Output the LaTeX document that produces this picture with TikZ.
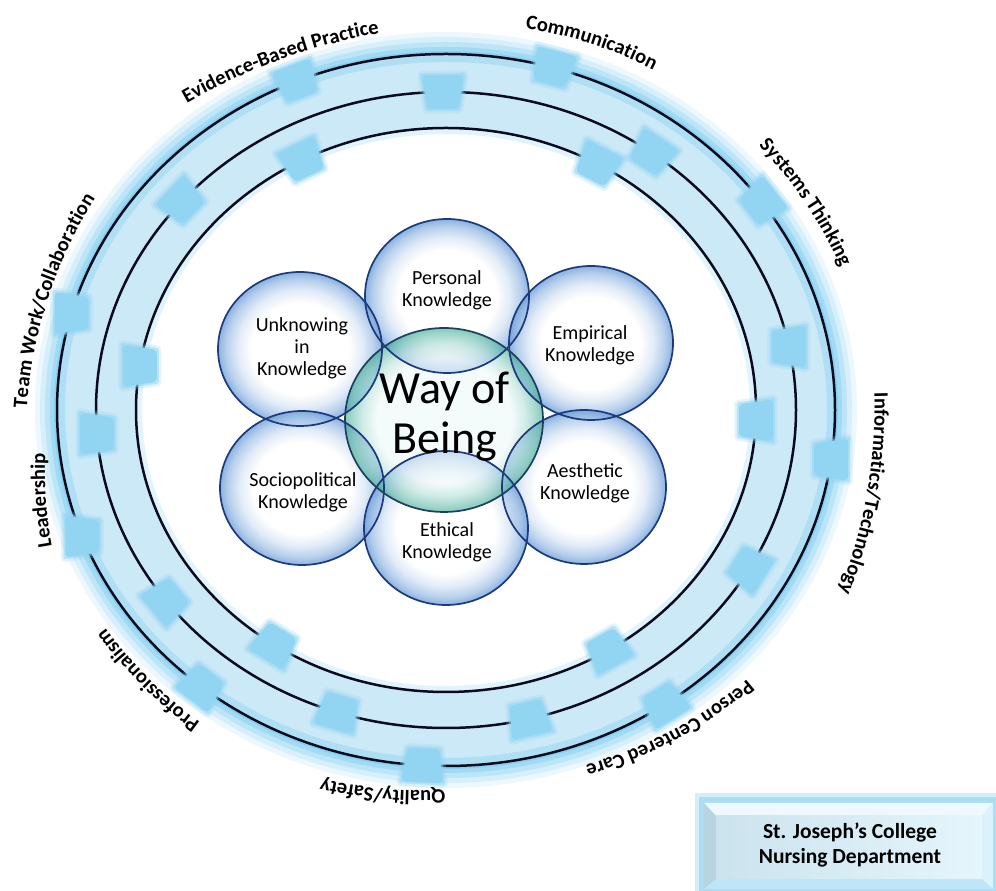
\documentclass[tikz,border=0pt]{standalone}
\usepackage{fontspec}
\setmainfont{Carlito}
\usetikzlibrary{decorations.text}
\definecolor{bandc}{HTML}{CCE9F7}
\definecolor{glowc}{HTML}{6FC8EF}
\definecolor{tabc}{HTML}{92D5F2}
\definecolor{ringc}{HTML}{0B0B20}
\definecolor{navyc}{HTML}{1C3A7C}
\definecolor{bubc}{HTML}{5E95D6}
\definecolor{tealc}{HTML}{2FA68C}
\definecolor{corec}{HTML}{EEF9F9}
\definecolor{coreline}{HTML}{1D4060}

\pgfdeclareradialshading{bubble}{\pgfpoint{0bp}{0bp}}{%
  color(0bp)=(white); color(15bp)=(white); color(19bp)=(bubc!22!white);
  color(22.5bp)=(bubc!55!white); color(25bp)=(bubc!90!white); color(50bp)=(bubc!90!white)}
\pgfdeclareradialshading{coreshade}{\pgfpoint{0bp}{0bp}}{%
  color(0bp)=(corec); color(17bp)=(corec); color(20.5bp)=(tealc!30!corec);
  color(23.5bp)=(tealc!75!white); color(25bp)=(tealc); color(50bp)=(tealc)}

\newcommand\lblfont{\bfseries\fontsize{20.5}{24}\selectfont}
\newcommand\ringtab[3]{%
  \pgfmathsetmacro\tabX{446+#1*cos(#3)}%
  \pgfmathsetmacro\tabY{481+#2*sin(#3)}%
  \pgfmathsetmacro\tabN{atan2(sin(#3)/#2,cos(#3)/#1)-90}%
  \begin{scope}[shift={(\tabX,\tabY)},rotate=\tabN]
    \draw[tabc,line width=9pt,opacity=0.25,line join=round] (-21,17) -- (21,17) -- (16,-17) -- (-16,-17) -- cycle;
    \draw[tabc,line width=4pt,opacity=0.5,line join=round] (-21,17) -- (21,17) -- (16,-17) -- (-16,-17) -- cycle;
    \fill[tabc,rounded corners=4pt] (-21,17) -- (21,17) -- (16,-17) -- (-16,-17) -- cycle;
  \end{scope}}
\newcommand\ringlabel[5]{%
  \pgfmathsetmacro\lbX{#1-#4*cos(#3+90)}%
  \pgfmathsetmacro\lbY{891-#2-#4*sin(#3+90)}%
  \pgfmathsetmacro\lbS{#3+90+14324/#4}%
  \pgfmathsetmacro\lbE{#3+90-14324/#4}%
  \path[decorate,decoration={text along path,text align=center,text={|\lblfont|#5}}]
    ([shift={(\lbS:#4)}]\lbX,\lbY) arc[start angle=\lbS,end angle=\lbE,radius=#4];
}

\begin{document}
\begin{tikzpicture}[x=1pt,y=1pt,
  ringline/.style={ringc,line width=2.5pt},
  bubline/.style={navyc,line width=1.7pt},
  klbl/.style={align=center,font=\fontsize{20}{22}\selectfont,inner sep=0pt},
]
\useasboundingbox (0,0) rectangle (996,891);
\fill[white] (0,0) rectangle (996,891);

% ---- ring band ----
\coordinate (rc) at (446,481);
\foreach \d/\o in {22/0.12,17/0.18,12/0.25,7/0.35,3/0.45}
  {\fill[glowc,opacity=\o] (rc) ellipse [x radius=389+\d, y radius=356+\d];}
\fill[bandc] (rc) ellipse [x radius=390, y radius=357];
\draw[glowc,opacity=0.3,line width=8pt] (rc) ellipse [x radius=385, y radius=352];
\fill[white] (rc) ellipse [x radius=310, y radius=282];
\draw[glowc,opacity=0.2,line width=6pt] (rc) ellipse [x radius=307, y radius=279];

\draw[ringline] (rc) ellipse [x radius=389, y radius=356];
\draw[ringline] (rc) ellipse [x radius=350, y radius=318];
\draw[ringline] (rc) ellipse [x radius=310, y radius=282];

% ---- tabs ----
\foreach \ta in {112.6,74,35.7,-8,-55.8,266.6,231,200.8,164.2} {\ringtab{389}{356}{\ta}}
\foreach \ta in {90.5,53.9,11.5,-29.9,-76.3,252,216.9,184.3,139} {\ringtab{350}{318}{\ta}}
\foreach \ta in {117.6,60.7,-2.1,-58.5,236.4,171} {\ringtab{310}{282}{\ta}}

% ---- circles ----
\foreach \x/\y in {447/595, 300/542, 591/548, 302/403, 584/404, 446/363}
  {\shade[shading=bubble,opacity=0.8] (\x,\y) ellipse [x radius=82, y radius=77];}
\shade[shading=coreshade,opacity=0.6] (444,471) ellipse [x radius=99, y radius=92];
\foreach \x/\y in {447/595, 300/542, 591/548, 302/403, 584/404, 446/363}
  {\draw[bubline] (\x,\y) ellipse [x radius=82, y radius=77];}
\draw[coreline,line width=1.7pt] (444,471) ellipse [x radius=99, y radius=92];

\node[klbl] (tper) at (447,601) {Personal\\Knowledge};
\node[klbl] (tunk) at (302,543) {Unknowing\\in\\Knowledge};
\node[klbl] (temp) at (590,546) {Empirical\\Knowledge};
\node[klbl] (tsoc) at (303,399) {Sociopolitical\\Knowledge};
\node[klbl] (taes) at (585,408) {Aesthetic\\Knowledge};
\node[klbl] (teth) at (447,349) {Ethical\\Knowledge};
\node[align=center,font=\fontsize{46}{50}\selectfont,inner sep=0pt] (tway) at (445,474) {Way of\\Being};

% ---- ring labels ----
\ringlabel{280}{60}{20}{600}{Evidence-Based Practice}
\ringlabel{591}{44}{-18}{420}{Communication}
\ringlabel{805}{203}{-56}{420}{Systems Thinking}
\ringlabel{867}{494}{-100}{500}{Informatics/Technology}
\ringlabel{671}{731}{208}{420}{Person Centered Care}
\ringlabel{383}{789}{175}{420}{Quality/Safety}
\ringlabel{149}{679}{135}{420}{Professionalism}
\ringlabel{46}{500}{94}{420}{Leadership}
\ringlabel{48}{299}{72}{450}{Team Work/Collaboration}

% ---- box ----
\fill[glowc,opacity=0.3] (695,0) rectangle (996,98);
\fill[glowc,opacity=0.4] (699,0) rectangle (996,94);
\fill[white!88!glowc] (704,88) -- (993,88) -- (982,75) -- (716,75) -- cycle;
\fill[white!60!glowc!80!gray] (704,88) -- (716,75) -- (716,12) -- (704,2) -- cycle;
\fill[white!55!glowc] (704,2) -- (716,12) -- (982,12) -- (993,2) -- cycle;
\fill[white!75!glowc] (993,2) -- (982,12) -- (982,75) -- (993,88) -- cycle;
\shade[left color=white!70!glowc!90!gray, right color=white!82!glowc] (716,12) rectangle (982,75);
\node[align=center,font=\bfseries\fontsize{21.5}{25}\selectfont,inner sep=0pt] (boxtext) at (850,46) {St. Joseph’s College\\Nursing Department};
\end{tikzpicture}
\end{document}
